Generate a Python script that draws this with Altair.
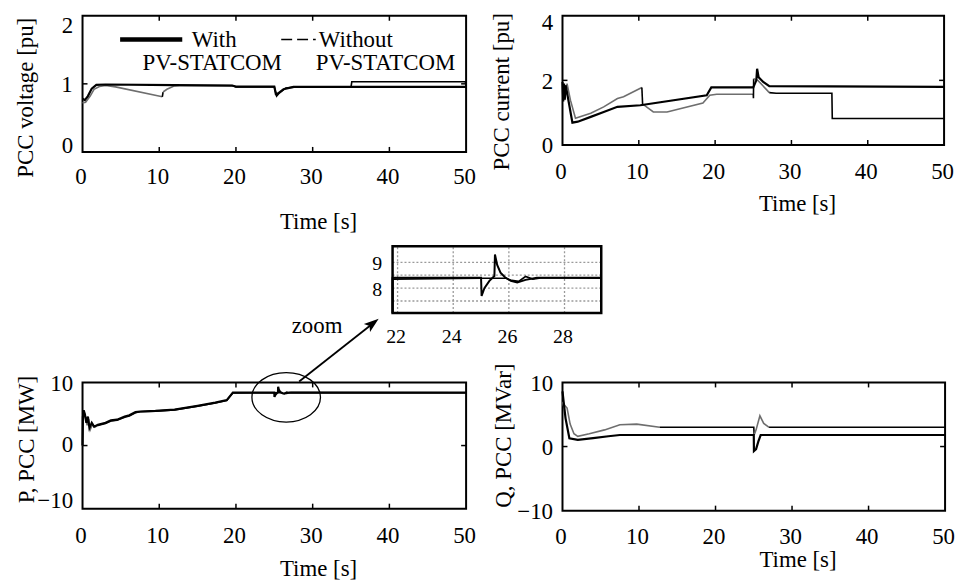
import altair as alt
import pandas as pd

# ---------------- data ----------------
# PCC voltage [pu]
V_T_WITH = [0, 0.3, 0.7, 1.2, 1.8, 3, 12, 19.5, 20, 25, 25.2, 25.5, 26.2, 27.5, 35, 50]
V_WITH = [0.78, 0.76, 0.82, 0.93, 0.985, 0.99, 0.98, 0.975, 0.96, 0.96, 0.85, 0.86, 0.92, 0.955, 0.955, 0.955]
V_T_WO = [0, 0.4, 1.0, 1.5, 2.2, 3, 4.3, 10.4, 10.5, 11, 12, 13, 19.5, 20, 25, 25.3, 25.6, 26.5, 28, 35, 35.1, 49.9, 50]
V_WO = [0.72, 0.73, 0.82, 0.92, 0.96, 0.975, 0.955, 0.81, 0.88, 0.92, 0.97, 0.98, 0.975, 0.955, 0.955, 0.82, 0.86, 0.94, 0.955, 0.955, 1.03, 1.03, 0.96]
V_WO_BLACK = [(10.4, 10.5), (19.5, 50)]

# PCC current [pu]
I_T_WITH = [0, 0.1, 0.2, 0.3, 0.4, 0.5, 1.3, 2.0, 3.7, 5.4, 7.2, 10.2, 18.9, 19.5, 25.0, 25.4, 25.5, 25.7, 26.3, 27.1, 50]
I_WITH = [1.95, 1.35, 1.9, 1.4, 1.85, 1.75, 0.69, 0.72, 0.87, 1.02, 1.18, 1.23, 1.54, 1.78, 1.78, 2.0, 2.36, 2.1, 1.95, 1.82, 1.8]
I_T_WO = [0, 0.3, 0.6, 1.05, 1.7, 3.7, 5.4, 7.2, 8.0, 10.4, 10.5, 10.7, 11.9, 13.7, 18.4, 19.3, 20.2, 25.0, 25.02, 25.05, 25.6, 27.1, 28, 35.3, 35.35, 50]
I_WO = [1.6, 1.45, 1.9, 1.38, 0.83, 0.98, 1.18, 1.44, 1.49, 1.78, 1.25, 1.23, 1.02, 1.02, 1.30, 1.54, 1.57, 1.57, 1.45, 2.05, 2.0, 1.62, 1.6, 1.6, 0.82, 0.82]
I_WO_BLACK = [(10.4, 10.5), (25.0, 25.05), (27.1, 50)]

# P, PCC [MW]
P_T_WITH = [0, 0.05, 0.15, 0.3, 0.5, 0.7, 0.9, 1.2, 1.5, 2, 3, 3.7, 4.5, 5.5, 6.1, 6.9, 7.5, 9.5, 12, 15, 17.3, 18.8, 19.6,
            25.0, 25.02, 25.12, 25.3, 25.48, 25.5, 25.58, 25.7, 25.86, 26.07, 26.3, 26.6, 27.0, 50]
P_WITH = [0, 4.5, 5.6, 5.0, 3.6, 4.6, 2.8, 3.6, 3.0, 3.3, 3.6, 4.0, 4.1, 4.6, 4.8, 5.3, 5.4, 5.5, 5.7, 6.3, 6.8, 7.2, 8.4,
          8.4, 7.7, 8.0, 8.28, 8.47, 9.3, 8.9, 8.6, 8.42, 8.28, 8.22, 8.32, 8.4, 8.4]
P_T_WO = [0, 0.05, 0.2, 0.4, 0.6, 0.8, 1.0, 1.3, 1.6, 2, 3, 3.7, 4.5, 5.5, 6.1, 6.9, 7.5, 9.5, 12, 15, 17.3, 18.8, 19.6,
          25.0, 25.9, 26.1, 26.35, 26.6, 26.86, 27.2, 50]
P_WO = [0, 4.0, 5.2, 4.3, 3.2, 4.2, 2.5, 3.4, 2.9, 3.2, 3.5, 3.9, 4.0, 4.5, 4.7, 5.2, 5.35, 5.45, 5.65, 6.25, 6.75, 7.15, 8.35,
        8.38, 8.38, 8.3, 8.26, 8.45, 8.35, 8.4, 8.38]
P_WO_BLACK = [(2, 50)]

# Q, PCC [MVar]
Q_T_WITH = [0, 0.15, 0.4, 0.9, 2.0, 4, 6, 7.5, 25.0, 25.02, 25.3, 25.6, 25.9, 50]
Q_WITH = [8.6, 7.0, 4.4, 1.3, 1.05, 1.3, 1.6, 1.8, 1.8, -0.7, -0.4, 0.8, 1.8, 1.8]
Q_T_WO = [0, 0.15, 0.3, 0.6, 1.0, 1.5, 2.0, 3.5, 5.5, 7.5, 9.7, 12.7, 25.0, 25.05, 25.3, 25.8, 26.3, 27.0, 50]
Q_WO = [7.0, 6.3, 6.4, 6.0, 3.5, 2.0, 1.6, 2.0, 2.6, 3.4, 3.5, 3.0, 3.0, 1.8, 2.6, 4.8, 3.6, 3.0, 3.0]
Q_WO_BLACK = [(12.7, 25.05), (27.0, 50)]

X_TICKS = [0, 10, 20, 30, 40, 50]
X_INNER = [10, 20, 30, 40]
V_TICKS = [0, 1, 2]
INSET_X = [21.82, 29.32]
INSET_Y = [7.04, 9.62]
INSET_XGRID = [22, 24, 26, 28]
INSET_YGRID = [7.5, 8, 8.5, 9]
INSET_YLABELS = [8, 9]

FONT = "Liberation Serif"
BLACK = "#000000"
GREY = "#6e6e6e"


def with_df(ts, vs):
    return pd.DataFrame({"t": ts, "v": vs, "o": list(range(len(ts)))})


def without_df(ts, vs, black):
    rows, run, prev = [], -1, None
    for i in range(len(ts) - 1):
        s = "k" if any(ts[i] >= a and ts[i + 1] <= b for a, b in black) else "g"
        if s != prev:
            run += 1
            rows.append(dict(t=ts[i], v=vs[i], shade=s, run=run, o=len(rows)))
            prev = s
        rows.append(dict(t=ts[i + 1], v=vs[i + 1], shade=s, run=run, o=len(rows)))
    return pd.DataFrame(rows)


SHADE = alt.Color("shade:N", scale=alt.Scale(domain=["k", "g"], range=[BLACK, GREY]), legend=None)


def series_layers(X, Y, dfw, dfo, w_with=2.2, w_wo=1.6):
    wo = alt.Chart(dfo).mark_line(strokeWidth=w_wo).encode(
        x=X, y=Y, color=SHADE, detail="run:N", order="o:Q")
    wi = alt.Chart(dfw).mark_line(strokeWidth=w_with, color=BLACK).encode(
        x=X, y=Y, order="o:Q")
    return [wo, wi]


def tick_layers(X, Y, xin, yin, W, H, L=5):
    tx = pd.DataFrame({"t": xin})
    ty = pd.DataFrame({"v": yin})
    return [
        alt.Chart(tx).mark_rule(color=BLACK, strokeWidth=1.5).encode(x=X, y=alt.value(H), y2=alt.value(H - L)),
        alt.Chart(tx).mark_rule(color=BLACK, strokeWidth=1.5).encode(x=X, y=alt.value(0), y2=alt.value(L)),
        alt.Chart(ty).mark_rule(color=BLACK, strokeWidth=1.5).encode(y=Y, x=alt.value(0), x2=alt.value(L)),
        alt.Chart(ty).mark_rule(color=BLACK, strokeWidth=1.5).encode(y=Y, x=alt.value(W), x2=alt.value(W - L)),
    ]


def offset_expr(offsets, default):
    e = str(default)
    for val, off in offsets.items():
        e = f"datum.value == {val} ? {off} : ({e})"
    return alt.ExprRef(expr=e)


def axes(W, ydom, yvals, ytitle, xt_dy, yt_dx, yt_y, ylab_off, xpad=27):
    X = alt.X("t:Q", scale=alt.Scale(domain=[0, 50], nice=False, zero=False),
              axis=alt.Axis(values=X_TICKS, title="Time [s]", format="d", labelFlush=False,
                            labelOverlap=False, labelBaseline="middle", labelPadding=xpad, labelOffset=-2,
                            titleX=W / 2 + 44, titleY=xt_dy, titleAlign="center", titleBaseline="middle"))
    Y = alt.Y("v:Q", scale=alt.Scale(domain=ydom, nice=False, zero=False),
              axis=alt.Axis(values=yvals, title=ytitle, format="d", labelFlush=False, labelOverlap=False,
                            labelBound=False, labelPadding=10, labelOffset=offset_expr(ylab_off, 1),
                            titleX=yt_dx, titleY=yt_y, titleAlign="center", titleBaseline="middle"))
    return X, Y


# ---------------- top-left: voltage ----------------
W1, H1 = 386, 137
# the axis writes the end labels; the middle label is written as a text mark at its tick
X1, Y1 = axes(W1, [0, 2], [V_TICKS[0], V_TICKS[-1]], "PCC voltage  [pu]", 70, -57, 82, {2: 10, 0: -6}, xpad=25)
mid_lab = pd.DataFrame({"v": V_TICKS[1:-1], "label": [str(v) for v in V_TICKS[1:-1]]})
leg_line = pd.DataFrame({"t": [4.9, 13.0], "v": [1.65, 1.65]})
leg_dash = pd.DataFrame({"t": [25.9, 30.4], "v": [1.65, 1.65]})
leg_text = pd.DataFrame({"t": [14.25, 30.8], "v": [1.65, 1.65], "label": ["With", "Without"]})
leg_sub = pd.DataFrame({"t": [16.9, 39.5], "v": [1.305, 1.305], "label": ["PV-STATCOM", "PV-STATCOM"]})
legend_layers = [
    alt.Chart(leg_line).mark_line(color=BLACK, strokeWidth=4.5).encode(x=X1, y=Y1),
    alt.Chart(leg_dash).mark_line(color=BLACK, strokeWidth=1.5, strokeDash=[11, 5]).encode(x=X1, y=Y1),
    alt.Chart(leg_text).mark_text(align="left", baseline="middle", font=FONT, fontSize=23, color=BLACK).encode(
        x=X1, y=Y1, text="label:N"),
    alt.Chart(leg_sub).mark_text(align="center", baseline="middle", font=FONT, fontSize=23, color=BLACK).encode(
        x=X1, y=Y1, text="label:N"),
]
tl = alt.layer(
    *series_layers(X1, Y1, with_df(V_T_WITH, V_WITH), without_df(V_T_WO, V_WO, V_WO_BLACK)),
    *tick_layers(X1, Y1, X_INNER, [1], W1, H1),
    *legend_layers,
    alt.Chart(mid_lab).mark_text(align="right", baseline="middle", font=FONT, fontSize=23, color=BLACK,
                                 dy=1).encode(x=alt.value(-10), y=Y1, text="label:N"),
).properties(width=W1, height=H1)

# ---------------- top-right: current ----------------
W2, H2 = 384, 130
X2, Y2 = axes(W2, [0, 4], [0, 2, 4], "PCC current [pu]", 59, -61, 76, {4: 7})
tr = alt.layer(
    *series_layers(X2, Y2, with_df(I_T_WITH, I_WITH), without_df(I_T_WO, I_WO, I_WO_BLACK)),
    *tick_layers(X2, Y2, X_INNER, [2], W2, H2),
).properties(width=W2, height=H2)

# ---------------- bottom-left: P ----------------
W3, H3 = 386, 127
X3, Y3 = axes(W3, [-10, 10], [-10, 0, 10], "P, PCC [MW]", 60, -56, 57, {0: -1.5, -10: -8})
ell = pd.DataFrame({"t": [26.55], "v": [7.64]})
arrow = pd.DataFrame({"t": [28.24, 37.84], "v": [10.16, 19.35]})
head = pd.DataFrame({"t": [37.84], "v": [19.35]})
zoom_txt = pd.DataFrame({"t": [30.57], "v": [18.98], "label": ["zoom"]})
bl = alt.layer(
    *series_layers(X3, Y3, with_df(P_T_WITH, P_WITH), without_df(P_T_WO, P_WO, P_WO_BLACK)),
    *tick_layers(X3, Y3, X_INNER, [0], W3, H3),
    alt.Chart(ell).mark_point(shape="M-1,0A1,0.72 0 1,1 1,0A1,0.72 0 1,1 -1,0Z", size=4761, filled=False,
                              color=BLACK, strokeWidth=1.3, opacity=1).encode(x=X3, y=Y3),
    alt.Chart(arrow).mark_line(color=BLACK, strokeWidth=1.8).encode(x=X3, y=Y3),
    alt.Chart(head).mark_point(shape="M0,-1L0.67,1L0,0.55L-0.67,1Z", size=225, filled=True, angle=52,
                               color=BLACK, opacity=1).encode(x=X3, y=Y3),
    alt.Chart(zoom_txt).mark_text(align="center", baseline="middle", font=FONT, fontSize=23, color=BLACK).encode(
        x=X3, y=Y3, text="label:N"),
).properties(width=W3, height=H3)

# ---------------- bottom-right: Q ----------------
W4, H4 = 385, 129
X4, Y4 = axes(W4, [-10, 10], [-10, 0, 10], "Q, PCC [MVar]", 49, -59, 53, {}, xpad=26)
br = alt.layer(
    *series_layers(X4, Y4, with_df(Q_T_WITH, Q_WITH), without_df(Q_T_WO, Q_WO, Q_WO_BLACK)),
    *tick_layers(X4, Y4, X_INNER, [0], W4, H4),
).properties(width=W4, height=H4)

# ---------------- inset (zoom of P), drawn in a cell of the left column ----------------
WC, HC = 386, 92          # cell size
IX0, IX1 = 312, 522       # inset frame, pixels inside the cell
IY0, IY1 = 25, 92
X5 = alt.X("t:Q", scale=alt.Scale(domain=INSET_X, range=[IX0, IX1], nice=False, zero=False, clamp=True),
           axis=alt.Axis(values=INSET_XGRID, title="", format="d", labelFlush=False, labelOverlap=False,
                         labelFontSize=20, labelBaseline="middle", labelPadding=24, labelOffset=-2))
Y5 = alt.Y("v:Q", scale=alt.Scale(domain=INSET_Y, range=[IY1, IY0], nice=False, zero=False, clamp=True),
           axis=alt.Axis(values=INSET_YLABELS, title="", format="d", labelFlush=False, labelFontSize=20,
                         labelPadding=11, labelOverlap=False, labelOffset=1, offset=-IX0))
gx = pd.DataFrame({"t": INSET_XGRID})
gy = pd.DataFrame({"v": INSET_YGRID})
frame = pd.DataFrame({"t": [INSET_X[0]], "t2": [INSET_X[1]], "v": [INSET_Y[0]], "v2": [INSET_Y[1]]})
inset = alt.layer(
    alt.Chart(gx).mark_rule(color="#9a9a9a", strokeWidth=1.3, strokeDash=[2, 2]).encode(
        x=X5, y=alt.datum(INSET_Y[0]), y2=alt.datum(INSET_Y[1])),
    alt.Chart(gy).mark_rule(color="#9a9a9a", strokeWidth=1.3, strokeDash=[2, 2]).encode(
        y=Y5, x=alt.datum(INSET_X[0]), x2=alt.datum(INSET_X[1])),
    *series_layers(X5, Y5, with_df(P_T_WITH, P_WITH), without_df(P_T_WO, P_WO, P_WO_BLACK), 2.0, 1.6),
    alt.Chart(frame).mark_rect(fillOpacity=0, stroke=BLACK, strokeWidth=2.5).encode(
        x=X5, x2="t2:Q", y=Y5, y2="v2:Q"),
).properties(width=WC, height=HC, view=alt.ViewBackground(strokeOpacity=0))


def spacer(w, h):
    d = pd.DataFrame({"t": [0], "v": [0]})
    return alt.Chart(d).mark_point(opacity=0).encode(
        x=alt.X("t:Q", axis=None), y=alt.Y("v:Q", axis=None)
    ).properties(width=w, height=h, view=alt.ViewBackground(strokeOpacity=0))


chart = alt.concat(
    tl, tr, inset, spacer(1, 1), bl, br,
    columns=2, spacing=alt.RowColnumber(row=70, column=97), bounds="flush",
).properties(
    padding={"left": 5, "top": 1, "right": 0, "bottom": 0}
).configure_view(stroke=BLACK, strokeWidth=2).configure_axis(
    labelFont=FONT, titleFont=FONT, labelFontSize=23, titleFontSize=23, titleFontWeight="normal",
    labelColor=BLACK, titleColor=BLACK, ticks=False, tickSize=0, domain=False, grid=False
)

chart.save("out.html", embed_options={"renderer": "svg", "actions": False})
